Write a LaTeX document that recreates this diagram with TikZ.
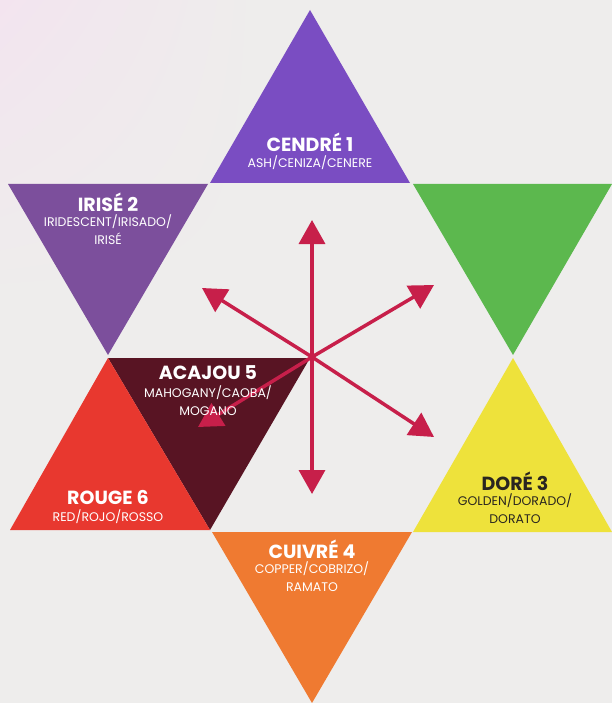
\documentclass[tikz,border=0pt]{standalone}
\usepackage{fontspec}
\setmainfont{Poppins}
\usetikzlibrary{arrows.meta,shadings}
\definecolor{bgc}{HTML}{EEEDEC}
\definecolor{pinkc}{HTML}{F3E4EF}
\definecolor{cendre}{HTML}{7A4DC2}
\definecolor{irise}{HTML}{7C4F9C}
\definecolor{vert}{HTML}{5CB84E}
\definecolor{acajou}{HTML}{581423}
\definecolor{rouge}{HTML}{E8382F}
\definecolor{dore}{HTML}{EEE23B}
\definecolor{cuivre}{HTML}{EF7A31}
\definecolor{fleche}{HTML}{C71F4A}
\definecolor{darktext}{HTML}{2A2620}
\tikzset{
  title/.style={font=\bfseries\fontsize{19}{21}\selectfont, inner sep=0pt, anchor=center},
  sub/.style={font=\fontsize{12.5}{18}\selectfont, inner sep=0pt, anchor=north, align=center},
  arr/.style={draw=fleche, line width=3.5pt, -{Triangle[length=24pt,width=26pt]}},
}
\begin{document}
\begin{tikzpicture}[x=1pt,y=-1pt]
\useasboundingbox (0,0) rectangle (612,703);
\fill[bgc] (0,0) rectangle (612,703);
\shade[upper left=pinkc, upper right=bgc, lower left=bgc, lower right=bgc] (0,0) rectangle (260,300);
% triangles
\fill[cendre] (310,10) -- (410,183) -- (210,183) -- cycle;
\fill[irise] (8,184) -- (208,184) -- (108,355) -- cycle;
\fill[vert] (413,184) -- (612,184) -- (513,355) -- cycle;
\fill[acajou] (108,358) -- (310,358) -- (210,530) -- cycle;
\fill[rouge] (108,358) -- (210,530) -- (10,530) -- cycle;
\fill[dore] (513,358) -- (612,532) -- (413,532) -- cycle;
\fill[cuivre] (212,532) -- (412,532) -- (312,703) -- cycle;
% arrows
\coordinate (c) at (312,357);
\coordinate (tU) at (312,220);
\coordinate (tD) at (312,494);
\coordinate (tUL) at (202,288);
\coordinate (tUR) at (434,285);
\coordinate (tDR) at (434,437);
\coordinate (tDL) at (198,427);
\foreach \t in {tU,tD,tUL,tUR,tDR,tDL} \draw[arr] (c) -- (\t);
% labels
\node[title, text=white] (n1) at (310,142) {CENDRÉ 1};
\node[sub, text=white] (s1) at (310,156) {ASH/CENIZA/CENERE};
\node[title, text=white] (n2) at (108,202) {IRISÉ 2};
\node[sub, text=white] (s2) at (108,215) {IRIDESCENT/IRISADO/\\IRISÉ};
\node[title, text=white] (n5) at (208,373) {ACAJOU 5};
\node[sub, text=white] (s5) at (208,386) {MAHOGANY/CAOBA/\\MOGANO};
\node[title, text=white] (n6) at (108,497) {ROUGE 6};
\node[sub, text=white] (s6) at (108,510) {RED/ROJO/ROSSO};
\node[title, text=darktext] (n3) at (515,481) {DORÉ 3};
\node[sub, text=darktext] (s3) at (515,494) {GOLDEN/DORADO/\\DORATO};
\node[title, text=white] (n4) at (312,549) {CUIVRÉ 4};
\node[sub, text=white] (s4) at (312,562) {COPPER/COBRIZO/\\RAMATO};
\end{tikzpicture}
\end{document}
